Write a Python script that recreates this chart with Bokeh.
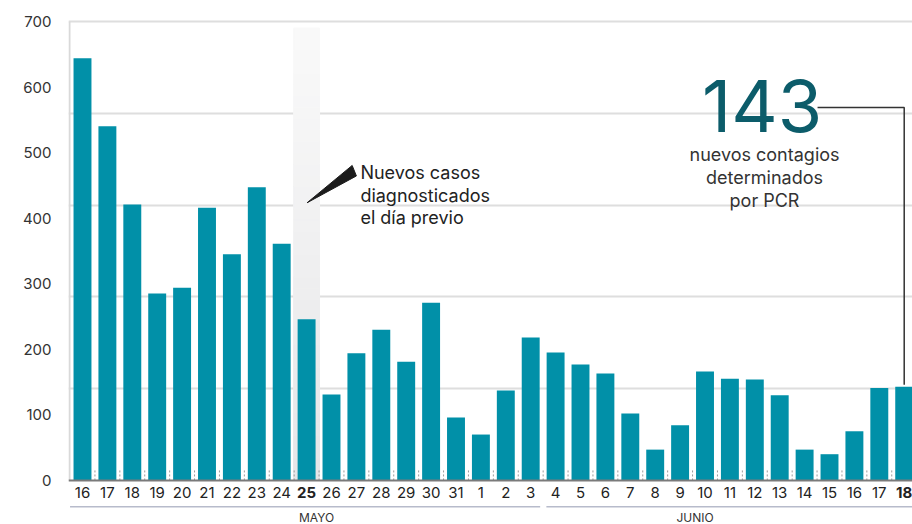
import numpy as np
from bokeh.plotting import figure
from bokeh.models import Range1d, FixedTicker, ColumnDataSource
from bokeh.core.properties import value
from bokeh.embed import file_html
from bokeh.resources import INLINE

# ---------------- data ----------------
day_labels = ["16", "17", "18", "19", "20", "21", "22", "23", "24", "25", "26", "27",
              "28", "29", "30", "31", "1", "2", "3", "4", "5", "6", "7", "8", "9",
              "10", "11", "12", "13", "14", "15", "16", "17", "18"]
new_cases = [644, 540, 421, 285, 294, 416, 345, 447, 361, 246, 131, 194, 230, 181, 271, 96,
             70, 137, 218, 195, 177, 163, 102, 47, 84, 166, 155, 154, 130, 47, 40, 75, 141, 143]
highlight_index = 9          # "25" de mayo
last_index = 33              # "18" de junio
month_names = ["MAYO", "JUNIO"]
month_first = [0, 19]
month_last = [18, 33]
y_tick_values = [0, 100, 200, 300, 400, 500, 600, 700]
grid_values = [140, 280, 420, 560, 700]
note_lines = ["Nuevos casos", "diagnosticados", "el día previo"]
total_label = "143"
total_lines = ["nuevos contagios", "determinados", "por PCR"]

# ---------------- style ----------------
FONT = value("Inter")
BAR = "#0190a8"
idx = np.arange(len(new_cases))
styles = ["bold" if i in (highlight_index, last_index) else "normal" for i in idx]

x0, x1 = -0.562, 33.333
p = figure(width=912, height=524, x_range=Range1d(x0, x1), y_range=Range1d(-67.2, 703),
           output_backend="svg", toolbar_location=None, x_axis_location=None,
           min_border_left=68, min_border_right=0, min_border_top=19, min_border_bottom=0)
p.outline_line_color = None
p.background_fill_color = "white"
p.border_fill_color = "white"
p.xgrid.visible = False
p.ygrid.ticker = FixedTicker(ticks=grid_values)
p.ygrid.grid_line_color = "#dedede"
p.ygrid.grid_line_width = 2

ax = p.yaxis[0]
ax.ticker = FixedTicker(ticks=y_tick_values)
ax.axis_line_color = None
ax.major_tick_line_color = None
ax.minor_tick_line_color = None
ax.major_label_standoff = 11
ax.major_label_text_font = "Inter"
ax.major_label_text_font_size = "15px"
ax.major_label_text_color = "#333333"

# highlight band (vertical gradient)
n = 40
band_top = 690
edges = np.linspace(0, band_top, n + 1)
c_bot = np.array([0xe6, 0xe6, 0xe8])
c_top = np.array([0xfa, 0xfa, 0xfa])
cols = []
for k in range(n):
    t = (k + 0.5) / n
    c = (c_bot * (1 - t) + c_top * t).astype(int)
    cols.append("#%02x%02x%02x" % tuple(c))
p.quad(left=highlight_index - 0.52, right=highlight_index + 0.52,
       bottom=edges[:-1], top=edges[1:], fill_color=cols, line_color=cols, line_width=1)

# bars
src = ColumnDataSource(dict(x=idx, top=new_cases, label=day_labels, style=styles))
p.vbar(x="x", top="top", width=0.72, source=src, fill_color=BAR, line_color=None)

# dotted boundary ticks
bounds = idx[:-1] + 0.5
p.segment(x0=bounds, y0=0, x1=bounds, y1=17, line_color="#9a9a9a", line_width=1, line_dash="2 2")

# left border and baseline
p.segment(x0=[x0 + 0.04], y0=[0], x1=[x0 + 0.04], y1=[700], line_color="#d9d9d9", line_width=2)
p.segment(x0=[x0], y0=[0], x1=[x1], y1=[0], line_color="#7a7a7a", line_width=2)

# x labels
p.text(x="x", y=-18.3, text="label", source=src, text_align="center", text_baseline="middle",
       text_font=FONT, text_font_size="15px", text_font_style="style", text_color="#222222")

# month brackets
mx0 = [f - 0.5 + (0.13 if f > 0 else 0) for f in month_first]
mx1 = [l + 0.5 - 0.12 for l in month_last]
p.segment(x0=mx0, y0=-40, x1=mx1, y1=-40, line_color="#b7bbcb", line_width=1.5)
p.text(x=[9.4, 24.6], y=-56.5, text=month_names, text_align="center", text_baseline="middle",
       text_font=FONT, text_font_size="12px", text_color="#333333")

# pointer and note
h = highlight_index
p.patch(x=[h + 0.02, h + 1.83, h + 2.0], y=[423.5, 480.4, 464.4], fill_color="#1c1c1c", line_color="#1c1c1c")
p.text(x=[h + 2.16] * 3, y=[470.0, 434.6, 400.5], text=note_lines, text_align="left",
       text_baseline="alphabetic", text_font=FONT, text_font_size="18px", text_color="#222222")

# big number and leader line
p.text(x=[27.29], y=[570.5], text=[total_label], text_align="center", text_baseline="alphabetic",
       text_font=FONT, text_font_size="72px", text_color="#0c5c6a")
p.text(x=[27.39] * 3, y=[497.2, 461.6, 426.5], text=total_lines, text_align="center",
       text_baseline="alphabetic", text_font=FONT, text_font_size="18px", text_color="#333333")
p.line(x=[29.52, last_index, last_index], y=[568.9, 568.9, new_cases[last_index] + 3],
       line_color="#333333", line_width=1.5)

open("out.html", "w").write(file_html(p, INLINE))
